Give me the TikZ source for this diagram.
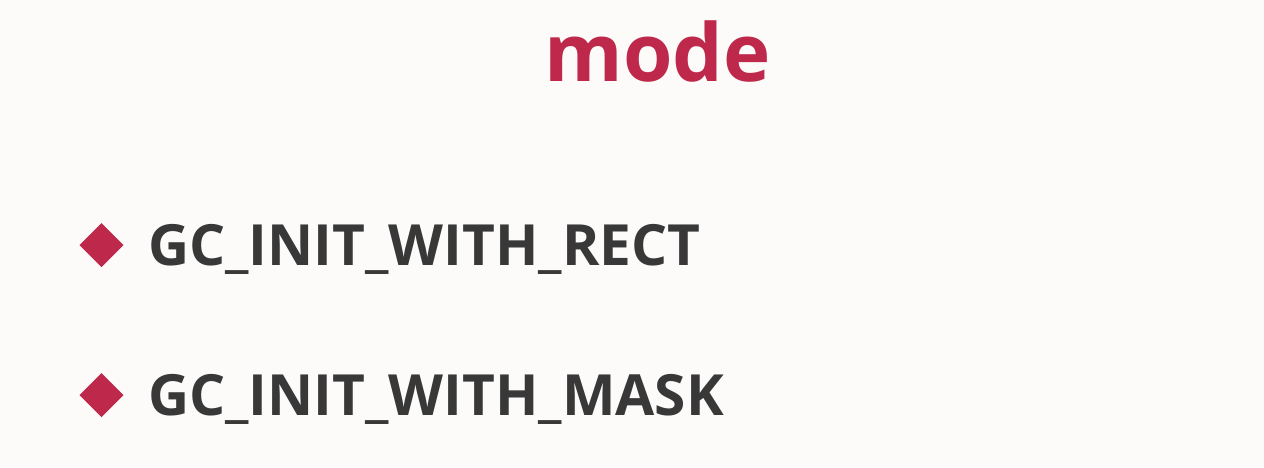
\documentclass[tikz,border=0pt]{standalone}
\usepackage{fontspec}
\setmainfont{Open Sans}
\usetikzlibrary{shapes.geometric, positioning}
\definecolor{modered}{RGB}{190,40,74}
\definecolor{itemgray}{RGB}{56,56,56}
\definecolor{slidebg}{RGB}{252,251,250}

\begin{document}
\begin{tikzpicture}[x=1pt, y=1pt, every node/.style={inner sep=0pt, outer sep=0pt},
    bullet/.style={diamond, fill=modered, minimum width=44pt, minimum height=44pt},
    item/.style={font={\fontsize{56.8}{60}\selectfont\bfseries}, text=itemgray, anchor=base west}]
    \fill[slidebg] (0,0) rectangle (1264,467);
    \useasboundingbox (0,0) rectangle (1264,467);
    \node[font={\fontsize{80}{84}\selectfont\bfseries}, text=modered, anchor=base] (title) at (657.5,385) {mode};
    \node[bullet] (b1) at (101.5,222) {};
    \node[bullet] (b2) at (101.5,72) {};
    \node[item] (rect) at (148,202) {GC\_INIT\_WITH\_RECT};
    \node[item] (mask) at (148,52) {GC\_INIT\_WITH\_MASK};
\end{tikzpicture}
\end{document}
